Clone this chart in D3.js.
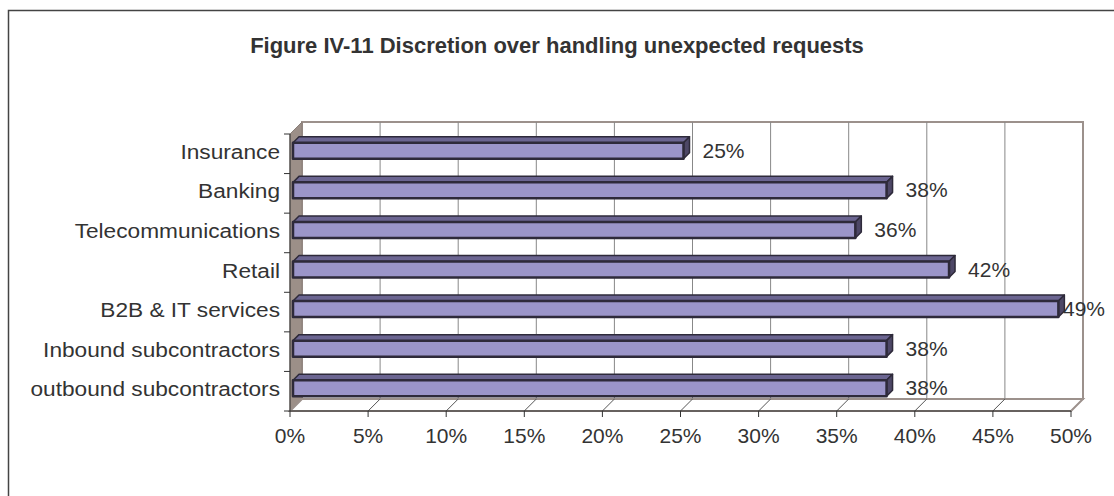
<!DOCTYPE html>
<html><head><meta charset="utf-8">
<script src="https://cdn.jsdelivr.net/npm/d3@7"></script>
<style>body{margin:0;background:#fff}svg{display:block}text{font-family:"Liberation Sans",Arial,sans-serif;fill:#333}</style>
</head><body><svg id="c" width="1114" height="496"></svg>
<script>
const categories = ["Insurance","Banking","Telecommunications","Retail","B2B & IT services","Inbound subcontractors","outbound subcontractors"];
const values = [0.25,0.38,0.36,0.42,0.49,0.38,0.38];
const tickValues = [0,0.05,0.10,0.15,0.20,0.25,0.30,0.35,0.40,0.45,0.50];
const title = "Figure IV-11 Discretion over handling unexpected requests";

const svg = d3.select("#c");
const D = 12; // wall depth offset
const x = d3.scaleLinear().domain([0,0.5]).range([290,1071]);
const y = d3.scaleBand().domain(categories).range([134,411]).padding(0);
const fmt = d3.format(".0%");
const FS = "21px";

// outer frame
svg.append("rect").attr("x",8.5).attr("y",10.5).attr("width",1200).attr("height",600)
  .attr("fill","none").attr("stroke","#444").attr("stroke-width",1.5);

svg.append("text").attr("x",557).attr("y",53).attr("text-anchor","middle")
  .style("font-weight","bold").style("font-size","22px").text(title);

const top0 = y.range()[0], bot0 = y.range()[1];
// back wall
svg.append("rect").attr("x",x(0)+D).attr("y",top0-D).attr("width",x(0.5)-x(0)).attr("height",bot0-top0)
  .attr("fill","#fff").attr("stroke","#9c918c").attr("stroke-width",2);
// side wall
svg.append("polygon").attr("points",[[x(0),top0],[x(0)+D,top0-D],[x(0)+D,bot0-D],[x(0),bot0]].map(p=>p.join(",")).join(" "))
  .attr("fill","#9c8f88").attr("stroke","#8a7f79");
// floor
svg.append("polygon").attr("points",[[x(0),bot0],[x(0)+D,bot0-D],[x(0.5)+D,bot0-D],[x(0.5),bot0]].map(p=>p.join(",")).join(" "))
  .attr("fill","#fff").attr("stroke","#9c918c").attr("stroke-width",2);
// gridlines
tickValues.slice(1,-1).forEach(t=>{
  svg.append("line").attr("x1",x(t)+D).attr("x2",x(t)+D).attr("y1",top0-D).attr("y2",bot0-D).attr("stroke","#888").attr("stroke-width",1);
  svg.append("line").attr("x1",x(t)+D).attr("x2",x(t)).attr("y1",bot0-D).attr("y2",bot0).attr("stroke","#555").attr("stroke-width",1);
});

// axes lines and ticks
svg.append("line").attr("x1",x(0)).attr("x2",x(0)).attr("y1",top0).attr("y2",bot0).attr("stroke","#333");
svg.append("line").attr("x1",x(0)).attr("x2",x(0.5)).attr("y1",bot0).attr("y2",bot0).attr("stroke","#333");
const bounds = categories.map(c=>y(c)).concat([bot0]);
bounds.forEach(b=>svg.append("line").attr("x1",x(0)-6).attr("x2",x(0)).attr("y1",b).attr("y2",b).attr("stroke","#333"));
tickValues.forEach(t=>{
  svg.append("line").attr("x1",x(t)).attr("x2",x(t)).attr("y1",bot0).attr("y2",bot0+6).attr("stroke","#333");
  svg.append("text").attr("x",x(t)).attr("y",443).attr("text-anchor","middle").style("font-size",FS).text(fmt(t));
});
categories.forEach(c=>{
  svg.append("text").attr("transform",`translate(280,${y(c)+y.bandwidth()/2+5}) scale(1.08,1)`)
    .attr("text-anchor","end").style("font-size",FS).text(c);
});

// bars (3D)
const d1 = 3, d2 = 9, bh = 16;
categories.forEach((c,i)=>{
  const v = values[i];
  const cy = y(c)+y.bandwidth()/2;
  const x0 = x(0)+d1, x1 = x(v)+d1;
  const yt = cy-bh/2-d1, yb = cy+bh/2-d1;
  const dd = d2-d1;
  const g = svg.append("g").attr("stroke","#2e2a3a").attr("stroke-width",1.5).attr("stroke-linejoin","round");
  g.append("polygon").attr("points",[[x0,yt],[x0+dd,yt-dd],[x1+dd,yt-dd],[x1,yt]].map(p=>p.join(",")).join(" ")).attr("fill","#6b6591");
  g.append("polygon").attr("points",[[x1,yt],[x1+dd,yt-dd],[x1+dd,yb-dd],[x1,yb]].map(p=>p.join(",")).join(" ")).attr("fill","#4d4766");
  g.append("rect").attr("x",x0).attr("y",yt).attr("width",x1-x0).attr("height",bh).attr("fill","#9b95c9").attr("stroke-width",2.5);
  const lbl = svg.append("text").attr("y",cy+4).attr("text-anchor","start").style("font-size",FS).text(fmt(v));
  const w = lbl.node().getComputedTextLength();
  lbl.attr("x", Math.min(x1+19, 1105-w));
});
</script></body></html>
